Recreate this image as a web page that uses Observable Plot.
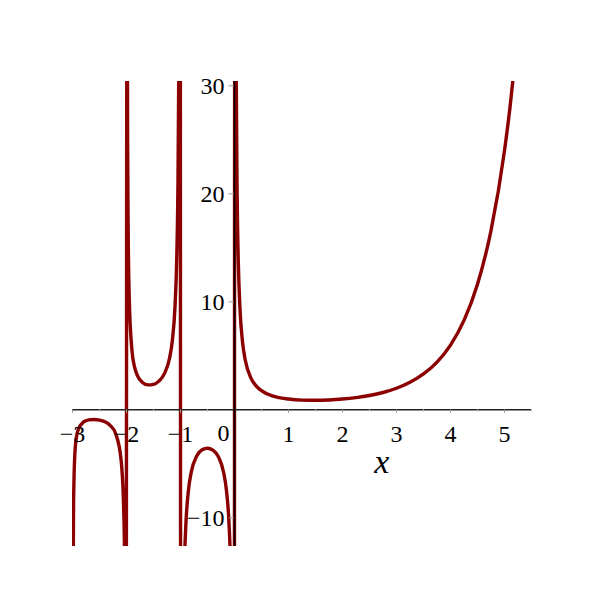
<!DOCTYPE html>
<html>
<head>
<meta charset="utf-8">
<script src="https://cdn.jsdelivr.net/npm/d3@7"></script>
<script src="https://cdn.jsdelivr.net/npm/@observablehq/plot@0.6"></script>
<style>
  html, body { margin: 0; padding: 0; background: #fff; }
</style>
</head>
<body>
<div id="chart"></div>
<script>
// Curve samples (ordered left to right, poles crossed)
const curveX = [
  -2.99, -2.98, -2.95, -2.9, -2.8, -2.7, -2.6, -2.5, -2.4, -2.3, -2.2, -2.1, -2.05, -2.03, -2.01,
  -1.99, -1.98, -1.97, -1.95, -1.9, -1.85, -1.8, -1.7, -1.6, -1.5, -1.4, -1.3, -1.2, -1.15, -1.1, -1.07, -1.05, -1.03, -1.01,
  -0.99, -0.97, -0.95, -0.93, -0.9, -0.85, -0.8, -0.7, -0.6, -0.5, -0.4, -0.3, -0.2, -0.15, -0.1, -0.07, -0.05, -0.03, -0.01,
  0.01, 0.03, 0.05, 0.07, 0.1, 0.15, 0.2, 0.3, 0.4, 0.5, 0.6, 0.8, 1, 1.25, 1.5, 1.75, 2, 2.25, 2.5, 2.75, 3, 3.25, 3.5, 3.75, 4, 4.25, 4.5, 4.75, 5, 5.1, 5.2
];
const curveY = [
  -16.9, -8.55, -3.56, -1.92, -1.14, -0.93, -0.89, -0.95, -1.11, -1.45, -2.21, -4.63, -9.58, -16.2, -49.5,
  50.5, 25.5, 17.2, 10.5, 5.56, 3.96, 3.19, 2.51, 2.31, 2.36, 2.66, 3.33, 4.85, 6.45, 9.72, 13.96, 19.65, 32.9, 99.6,
  -100.4, -33.8, -20.5, -14.8, -10.57, -7.32, -5.74, -4.27, -3.70, -3.55, -3.72, -4.33, -5.82, -7.42, -10.69, -14.94, -20.6, -33.9, -100.6,
  99.4, 32.8, 19.5, 13.8, 9.51, 6.22, 4.59, 2.99, 2.22, 1.77, 1.49, 1.16, 1, 0.906, 0.886, 0.919, 1, 1.133, 1.329, 1.608, 2, 2.549, 3.323, 4.423, 6, 8.286, 11.63, 16.59, 24, 27.93, 32.58
];

const xMajorTicks = [-3, -2, -1, 0, 1, 2, 3, 4, 5];
const xMinorTicks = [-2.5, -1.5, -0.5, 0.5, 1.5, 2.5, 3.5, 4.5, 5.5];
const xTickLabels = ["\u22123", "\u22122", "\u22121", "0", "1", "2", "3", "4", "5"];
const yTicks = [-10, 10, 20, 30];
const yTickLabels = ["\u221210", "10", "20", "30"];
const xLabel = "x";

const curve = curveX.map((x, i) => ({x, y: curveY[i]}));
const xLabelData = xMajorTicks.map((v, i) => ({v, t: xTickLabels[i]}));
const yLabelData = yTicks.map((v, i) => ({v, t: yTickLabels[i]}));

const serif = "Liberation Serif";
const red = "#8b0000";

const chart = Plot.plot({
  width: 600,
  height: 590,
  marginLeft: 72,
  marginRight: 69,
  marginTop: 81,
  marginBottom: 44,
  x: {domain: [-3, 5.5], axis: null},
  y: {domain: [-12.65, 30.4], axis: null},
  style: {background: "#fff"},
  marks: [
    Plot.line(curve, {x: "x", y: "y", stroke: red, strokeWidth: 3.4, curve: "monotone-x", clip: true}),
    // x axis
    Plot.ruleY([0], {x1: -3, x2: 5.5, stroke: "#222", strokeWidth: 1.5}),
    Plot.ruleX(xMajorTicks, {x: d => d, y1: 0, y2: -0.32, stroke: "#999", strokeWidth: 1}),
    Plot.ruleX(xMinorTicks, {x: d => d, y1: 0, y2: -0.2, stroke: "#bbb", strokeWidth: 1}),
    Plot.text(xLabelData.filter(d => d.v !== 0), {x: "v", y: 0, text: "t", dy: 24, fontSize: 24, fill: "#000", fontFamily: serif}),
    Plot.text(xLabelData.filter(d => d.v === 0), {x: "v", y: 0, text: "t", dy: 23, dx: -11, fontSize: 24, fill: "#000", fontFamily: serif}),
    // y axis
    Plot.ruleX([0], {y1: -12.65, y2: 30.4, stroke: "#000", strokeWidth: 1.5}),
    Plot.ruleY(yTicks, {y: d => d, x1: 0, x2: -0.1, stroke: "#999", strokeWidth: 1}),
    Plot.text(yLabelData, {x: 0, y: "v", text: "t", dx: -10, textAnchor: "end", fontSize: 24, fill: "#000", fontFamily: serif}),
    // axis title
    Plot.text([xLabel], {x: 2.73, y: 0, text: d => d, dy: 52, fontSize: 34, fontStyle: "italic", fill: "#000", fontFamily: serif})
  ]
});
document.getElementById("chart").appendChild(chart);
</script>
</body>
</html>
